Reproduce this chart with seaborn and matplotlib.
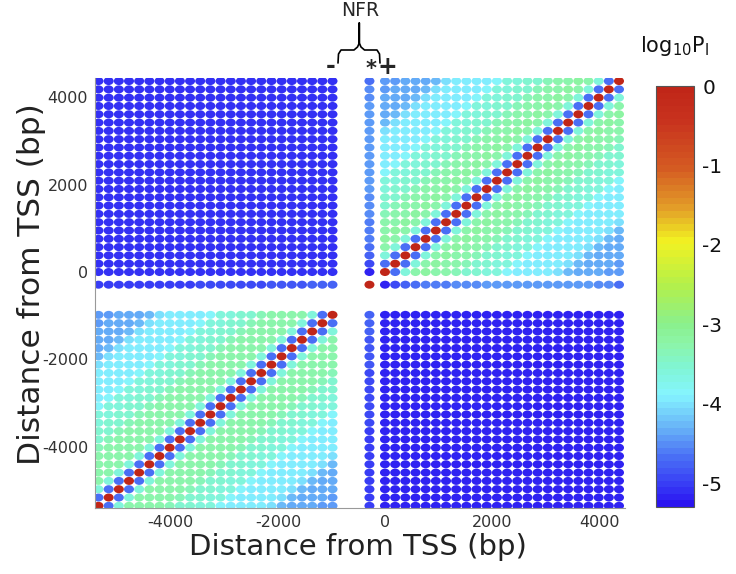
import numpy as np
import pandas as pd
import matplotlib
matplotlib.use('Agg')
import matplotlib.pyplot as plt
import seaborn as sns
from matplotlib.colors import LinearSegmentedColormap, Normalize
from matplotlib.path import Path
from matplotlib.transforms import Affine2D
from matplotlib.lines import Line2D

sns.set_style('white')
plt.rcParams['font.family'] = ['DejaVu Sans']
plt.rcParams['axes.unicode_minus'] = False

# nucleosome positions (bp from TSS)
left_pos = [-5350, -5160, -4970, -4780, -4590, -4400, -4210, -4020, -3830, -3640,
            -3450, -3260, -3070, -2880, -2690, -2500, -2310, -2120, -1930, -1740,
            -1550, -1360, -1170, -980]
nfr_pos = -290
right_pos = [0, 190, 380, 570, 760, 950, 1140, 1330, 1520, 1710, 1900, 2090,
             2280, 2470, 2660, 2850, 3040, 3230, 3420, 3610, 3800, 3990, 4180, 4370]

# log10 P_l versus separation (in nucleosomes) inside each side of the NFR
prof_right = [0.0, -4.72, -3.62, -3.25, -3.22, -3.27, -3.3, -3.36, -3.5, -3.53,
              -3.58, -3.63, -3.86, -3.9, -3.92, -3.95, -3.97, -4.0, -4.28, -4.32,
              -4.35, -4.38, -4.4, -4.42]
prof_left = [0.0, -4.72, -3.62, -3.26, -3.23, -3.28, -3.31, -3.37, -3.5, -3.54,
             -3.59, -3.64, -3.86, -3.9, -3.92, -3.95, -3.97, -4.0, -4.28, -4.32,
             -4.35, -4.38, -4.4, -4.42]
# NFR site against each position (left listed in left_pos order)
nfr_right = [-5.2, -4.95, -4.8, -4.7, -4.6, -4.58, -4.56, -4.52, -4.5, -4.48,
             -4.46, -4.45, -4.45, -4.44, -4.44, -4.44, -4.44, -4.44, -4.44, -4.45,
             -4.46, -4.5, -4.55, -4.72]
nfr_left = [-5.05, -5.05, -5.04, -5.03, -5.02, -5.01, -5.0, -4.99, -4.98, -4.97,
            -4.96, -4.95, -4.94, -4.93, -4.92, -4.9, -4.89, -4.87, -4.86, -4.84,
            -4.82, -4.8, -4.77, -4.74]
nfr_self = 0.0
# across the NFR
cross_upper = -5.12   # y right, x left
cross_lower = -5.18   # y left, x right

pos = left_pos + [nfr_pos] + right_pos
nl, nr = len(left_pos), len(right_pos)
k = nl  # index of NFR
grid = np.zeros((len(pos), len(pos)))
for i in range(nr):
    for j in range(nr):
        grid[k + 1 + i, k + 1 + j] = prof_right[abs(i - j)]
for i in range(nl):
    for j in range(nl):
        grid[i, j] = prof_left[abs(i - j)]
grid[k + 1:, :nl] = cross_upper
grid[:nl, k + 1:] = cross_lower
grid[k, k + 1:] = nfr_right
grid[k + 1:, k] = nfr_right
grid[k, :nl] = nfr_left
grid[:nl, k] = nfr_left
grid[k, k] = nfr_self

rows = []
for yi, yv in enumerate(pos):
    for xi, xv in enumerate(pos):
        rows.append((xv, yv, grid[yi, xi]))
df = pd.DataFrame(rows, columns=['x', 'y', 'value'])

vmin, vmax = -5.3, 0.0
anchors = [(-5.3, '#2a14f0'), (-5.1, '#3535f5'), (-4.7, '#4a70f5'), (-4.3, '#6ab8f8'),
           (-3.9, '#85f5ff'), (-3.55, '#80f5d2'), (-3.25, '#8cf5a8'), (-3.0, '#8af08c'),
           (-2.5, '#b4f04a'), (-1.95, '#f2f222'), (-1.5, '#e29a28'), (-1.0, '#d45a22'),
           (-0.4, '#c8321e'), (0.0, '#c02618')]
cmap = LinearSegmentedColormap.from_list(
    'pl', [((v - vmin) / (vmax - vmin), c) for v, c in anchors], N=64)
norm = Normalize(vmin, vmax)

ellipse = Path.unit_circle().transformed(Affine2D().scale(1.0, 0.8))

fig = plt.figure(figsize=(7.36, 5.74), dpi=100)
W, H = 736, 574
ax = fig.add_axes([95 / W, (H - 508) / H, 530 / W, 430 / H])
sns.scatterplot(data=df, x='x', y='y', hue='value', palette=cmap, hue_norm=norm,
                marker=ellipse, s=52, linewidth=0, legend=False, ax=ax)
ax.set_xlim(-5415, 4482)
ax.set_ylim(-5400, 4440)
ticks = [-4000, -2000, 0, 2000, 4000]
ax.set_xticks(ticks)
ax.set_yticks(ticks)
ax.tick_params(direction='in', length=3, width=0.8, colors='#888888',
               labelcolor='#333333', labelsize=11.5, pad=5)
for sp in ['top', 'right']:
    ax.spines[sp].set_visible(False)
for sp in ['left', 'bottom']:
    ax.spines[sp].set_color('#999999')
    ax.spines[sp].set_linewidth(0.8)
ax.set_xlabel('Distance from TSS (bp)', fontsize=21, color='#222222')
ax.set_ylabel('Distance from TSS (bp)', fontsize=22.5, color='#222222')
ax.xaxis.set_label_coords(0.496, -0.058)
ax.yaxis.set_label_coords(-0.093, 0.52)

cax = fig.add_axes([656 / W, (H - 507) / H, 38 / W, 421 / H])
sm = plt.cm.ScalarMappable(norm=norm, cmap=cmap)
cb = fig.colorbar(sm, cax=cax, ticks=[0, -1, -2, -3, -4, -5])
cb.outline.set_edgecolor('#555555')
cb.outline.set_linewidth(0.8)
cax.tick_params(direction='in', length=3, width=0.8, colors='#555555',
                labelcolor='#111111', labelsize=14.5, pad=6)
fig.text(674 / W, 1 - 46 / H, r'log$_{10}$P$_\mathrm{l}$', fontsize=15,
         ha='center', va='center', color='#111111')

# NFR brace and markers above the plot
fig.text(360 / W, 1 - 11 / H, 'NFR', fontsize=13.5, ha='center', va='center')
bx = [338, 338.5, 341, 354, 357.5, 359.3, 359.3, 359.3, 361, 364.5, 377, 379.5, 380]
by = [63, 54, 50, 50, 47, 43, 23, 43, 47, 50, 50, 54, 63]
fig.add_artist(Line2D([x / W for x in bx], [1 - y / H for y in by],
                      transform=fig.transFigure, color='black', lw=1.2))
fig.text(331 / W, 1 - 66 / H, '-', fontsize=17, fontweight='bold', ha='center', va='center')
fig.text(371 / W, 1 - 69 / H, '*', fontsize=15, fontweight='bold', ha='center', va='center')
fig.text(387 / W, 1 - 67 / H, '+', fontsize=17, fontweight='bold', ha='center', va='center')

fig.savefig('out.png', dpi=100)
